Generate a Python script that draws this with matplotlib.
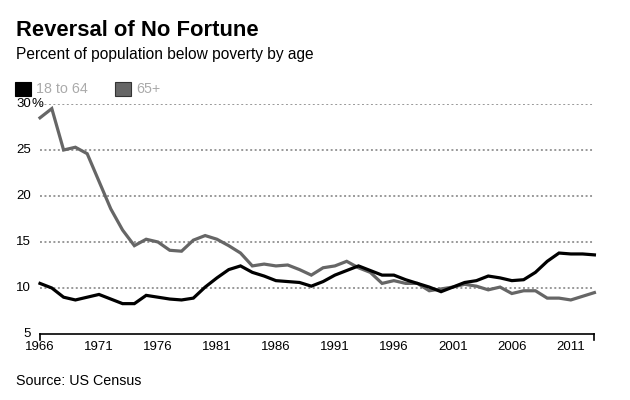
import matplotlib
matplotlib.use("Agg")
import matplotlib.pyplot as plt
from matplotlib.patches import Rectangle

plt.rcParams['font.family'] = ['Liberation Sans', 'DejaVu Sans']

# Годы и уровни бедности (%)
years = list(range(1966, 2014))
age_18_64 = [10.5, 10.0, 9.0, 8.7, 9.0, 9.3, 8.8, 8.3, 8.3, 9.2,
             9.0, 8.8, 8.7, 8.9, 10.1, 11.1, 12.0, 12.4, 11.7, 11.3,
             10.8, 10.7, 10.6, 10.2, 10.7, 11.4, 11.9, 12.4, 11.9, 11.4,
             11.4, 10.9, 10.5, 10.1, 9.6, 10.1, 10.6, 10.8, 11.3, 11.1,
             10.8, 10.9, 11.7, 12.9, 13.8, 13.7, 13.7, 13.6]
age_65_plus = [28.5, 29.5, 25.0, 25.3, 24.6, 21.6, 18.6, 16.3, 14.6, 15.3,
               15.0, 14.1, 14.0, 15.2, 15.7, 15.3, 14.6, 13.8, 12.4, 12.6,
               12.4, 12.5, 12.0, 11.4, 12.2, 12.4, 12.9, 12.2, 11.7, 10.5,
               10.8, 10.5, 10.5, 9.7, 9.9, 10.1, 10.4, 10.2, 9.8, 10.1,
               9.4, 9.7, 9.7, 8.9, 8.9, 8.7, 9.1, 9.5]

y_ticks = [5, 10, 15, 20, 25, 30]
x_ticks = list(range(1966, 2012, 5))

fig = plt.figure(figsize=(6.3, 4.0), dpi=100)
ax = fig.add_axes([0.0635, 0.165, 0.880, 0.575])

# Линии
ax.plot(years, age_65_plus, color='#666666', linewidth=2.3, clip_on=False,
        solid_joinstyle='miter', zorder=3)
ax.plot(years, age_18_64, color='#000000', linewidth=2.3, clip_on=False,
        solid_joinstyle='miter', zorder=4)

ax.set_xlim(1966, 2013)
ax.set_ylim(5, 30)

# Сетка пунктиром
for yv in y_ticks[1:]:
    ax.axhline(yv, color='#999999', linewidth=1.4, linestyle=(0, (1.0, 1.3)),
               zorder=1)

for s in ['top', 'right', 'left']:
    ax.spines[s].set_visible(False)
ax.spines['bottom'].set_linewidth(1.2)
ax.spines['bottom'].set_color('black')

ax.set_yticks([])
ax.set_xticks(x_ticks)
ax.set_xticklabels([str(x) for x in x_ticks], fontsize=9.5)
ax.tick_params(axis='x', length=0, pad=5)

# Засечки на концах оси
for xv in [1966, 2013]:
    ax.plot([xv, xv], [5, 4.3], color='black', linewidth=1.2, clip_on=False)

# Подписи оси Y
for yv in y_ticks:
    ax.text(-0.016, yv, str(yv), transform=ax.get_yaxis_transform(),
            ha='right', va='center', fontsize=9.5)
ax.text(-0.015, 30, '%', transform=ax.get_yaxis_transform(),
        ha='left', va='center', fontsize=9.5)

# Заголовки
fig.text(16 / 630, 1 - 36.5 / 400, 'Reversal of No Fortune', fontsize=15.8,
         fontweight='bold', ha='left', va='baseline')
fig.text(16 / 630, 1 - 58.5 / 400, 'Percent of population below poverty by age',
         fontsize=11.2, ha='left', va='baseline')

# Легенда
fig.patches.append(Rectangle((15 / 630, 1 - 96 / 400), 16 / 630, 14 / 400,
                             transform=fig.transFigure, facecolor='black',
                             edgecolor='black', linewidth=0.8))
fig.text(36 / 630, 1 - 89 / 400, '18 to 64', fontsize=10.3, color='#aaaaaa',
         ha='left', va='center')
fig.patches.append(Rectangle((115 / 630, 1 - 96 / 400), 16 / 630, 14 / 400,
                             transform=fig.transFigure, facecolor='#666666',
                             edgecolor='#333333', linewidth=0.8))
fig.text(136 / 630, 1 - 89 / 400, '65+', fontsize=10.3, color='#aaaaaa',
         ha='left', va='center')

# Источник
fig.text(16 / 630, 1 - 381 / 400, 'Source: US Census', fontsize=10.3,
         ha='left', va='center')

fig.savefig('out.png', dpi=100)
